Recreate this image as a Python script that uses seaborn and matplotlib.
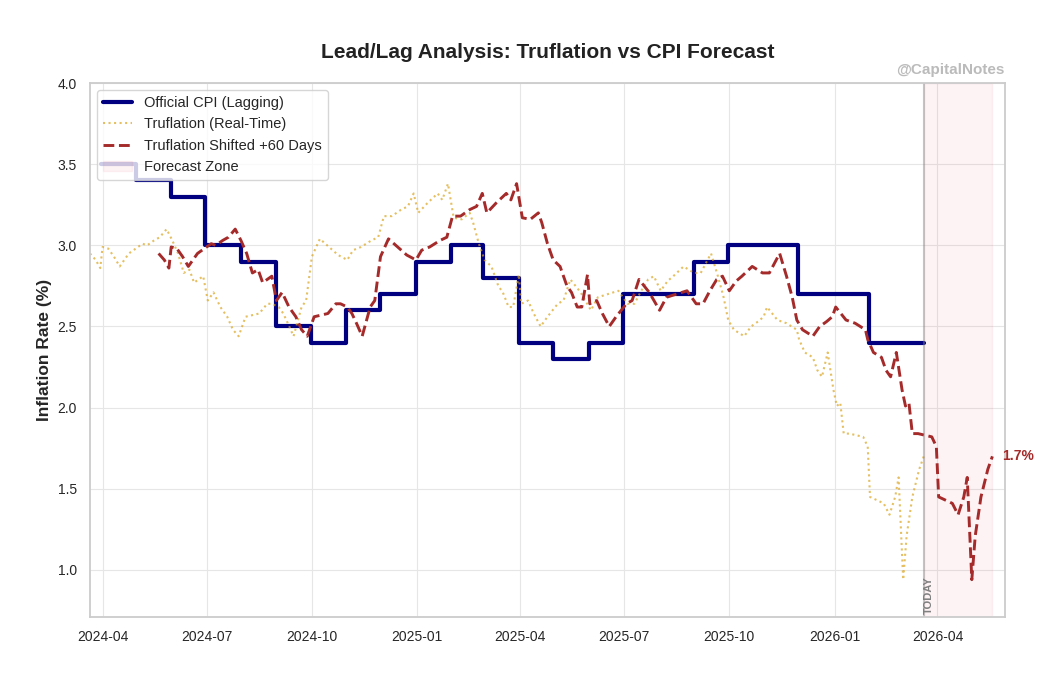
import matplotlib
matplotlib.use("Agg")
import matplotlib.pyplot as plt
import matplotlib.dates as mdates
import seaborn as sns
import pandas as pd

# Official CPI, month-end prints
cpi_dates = ["2024-03-31", "2024-04-30", "2024-05-31", "2024-06-30", "2024-07-31",
             "2024-08-31", "2024-09-30", "2024-10-31", "2024-11-30", "2024-12-31",
             "2025-01-31", "2025-02-28", "2025-03-31", "2025-04-30", "2025-05-31",
             "2025-06-30", "2025-07-31", "2025-08-31", "2025-09-30", "2025-10-31",
             "2025-11-30", "2025-12-31", "2026-01-31", "2026-02-28", "2026-03-20"]
cpi_vals = [3.5, 3.4, 3.3, 3.0, 2.9, 2.5, 2.4, 2.6, 2.7, 2.9,
            3.0, 2.8, 2.4, 2.3, 2.4, 2.7, 2.7, 2.9, 3.0, 3.0,
            2.7, 2.7, 2.4, 2.4, 2.4]

# Truflation real-time readings
tru_dates = ["2024-03-21", "2024-03-26", "2024-03-30", "2024-04-01", "2024-04-06", "2024-04-11",
             "2024-04-16", "2024-04-24", "2024-05-02", "2024-05-06", "2024-05-10", "2024-05-16",
             "2024-05-21", "2024-05-27", "2024-06-01", "2024-06-06", "2024-06-11", "2024-06-16",
             "2024-06-20", "2024-06-28", "2024-07-02", "2024-07-07", "2024-07-13", "2024-07-19",
             "2024-07-24", "2024-07-29", "2024-08-04", "2024-08-10", "2024-08-16", "2024-08-23",
             "2024-08-27", "2024-09-02", "2024-09-06", "2024-09-10", "2024-09-15", "2024-09-22",
             "2024-09-26", "2024-10-01", "2024-10-08", "2024-10-16", "2024-10-24", "2024-11-01",
             "2024-11-06", "2024-11-13", "2024-11-22", "2024-11-28", "2024-12-03", "2024-12-10",
             "2024-12-18", "2024-12-24", "2024-12-29", "2025-01-02", "2025-01-10", "2025-01-19",
             "2025-01-23", "2025-01-28", "2025-02-02", "2025-02-09", "2025-02-16", "2025-02-19",
             "2025-02-24", "2025-03-01", "2025-03-07", "2025-03-13", "2025-03-17", "2025-03-22",
             "2025-03-26", "2025-03-31", "2025-04-02", "2025-04-08", "2025-04-13", "2025-04-19",
             "2025-04-25", "2025-05-04", "2025-05-09", "2025-05-15", "2025-05-24", "2025-06-02",
             "2025-06-08", "2025-06-17", "2025-06-26", "2025-07-04", "2025-07-10", "2025-07-16",
             "2025-07-22", "2025-07-27", "2025-08-02", "2025-08-08", "2025-08-13", "2025-08-22",
             "2025-08-31", "2025-09-06", "2025-09-15", "2025-09-21", "2025-09-26", "2025-09-30",
             "2025-10-05", "2025-10-14", "2025-10-20", "2025-10-26", "2025-10-31", "2025-11-03",
             "2025-11-12", "2025-11-20", "2025-11-29", "2025-12-01", "2025-12-06", "2025-12-13",
             "2025-12-17", "2025-12-21", "2025-12-26", "2025-12-31", "2026-01-03", "2026-01-06",
             "2026-01-09", "2026-01-14", "2026-01-20", "2026-01-26", "2026-01-30", "2026-02-01",
             "2026-02-07", "2026-02-13", "2026-02-18", "2026-02-23", "2026-02-26", "2026-03-02",
             "2026-03-05", "2026-03-10", "2026-03-16", "2026-03-20"]
tru_vals = [2.95, 2.91, 2.86, 2.99, 2.98, 2.93, 2.87, 2.95, 2.99, 3.01, 3.00, 3.03,
            3.05, 3.10, 3.03, 2.95, 2.83, 2.85, 2.77, 2.81, 2.66, 2.71, 2.62, 2.56,
            2.48, 2.44, 2.56, 2.57, 2.58, 2.64, 2.64, 2.62, 2.58, 2.52, 2.44, 2.62,
            2.66, 2.93, 3.04, 2.99, 2.94, 2.91, 2.97, 2.99, 3.03, 3.05, 3.18, 3.18,
            3.22, 3.24, 3.32, 3.20, 3.26, 3.32, 3.28, 3.38, 3.17, 3.16, 3.20, 3.14,
            3.01, 2.91, 2.87, 2.75, 2.71, 2.62, 2.62, 2.82, 2.64, 2.66, 2.58, 2.50,
            2.56, 2.64, 2.66, 2.79, 2.71, 2.60, 2.68, 2.70, 2.72, 2.64, 2.64, 2.72,
            2.79, 2.81, 2.72, 2.78, 2.81, 2.87, 2.83, 2.83, 2.95, 2.81, 2.68, 2.54,
            2.48, 2.44, 2.50, 2.53, 2.56, 2.62, 2.54, 2.52, 2.48, 2.42, 2.34, 2.31,
            2.23, 2.19, 2.34, 2.11, 2.01, 2.03, 1.84, 1.84, 1.83, 1.82, 1.76, 1.45,
            1.43, 1.41, 1.34, 1.45, 1.57, 0.94, 1.21, 1.45, 1.62, 1.70]

lead_days = 60
today = pd.Timestamp("2026-03-20")

cpi = pd.DataFrame({"date": pd.to_datetime(cpi_dates), "value": cpi_vals})
tru = pd.DataFrame({"date": pd.to_datetime(tru_dates), "value": tru_vals})
shifted = tru.assign(date=tru["date"] + pd.Timedelta(days=lead_days))

sns.set_theme(style="whitegrid")
plt.rcParams["font.family"] = ["Liberation Sans", "DejaVu Sans"]

fig = plt.figure(figsize=(10.61, 6.79), dpi=100)
ax = fig.add_axes([0.0848, 0.0913, 0.8624, 0.7864])

sns.lineplot(data=cpi, x="date", y="value", ax=ax, color="navy", linewidth=3,
             drawstyle="steps-post", label="Official CPI (Lagging)")
sns.lineplot(data=tru, x="date", y="value", ax=ax, color="goldenrod", linewidth=1.5,
             linestyle=":", alpha=0.7, label="Truflation (Real-Time)")
sns.lineplot(data=shifted, x="date", y="value", ax=ax, color="#a52a2a", linewidth=2.1,
             linestyle="--", label=f"Truflation Shifted +{lead_days} Days")
ax.axvspan(today, today + pd.Timedelta(days=lead_days), color="crimson", alpha=0.05,
           label="Forecast Zone")
ax.axvline(today, color="gray", alpha=0.45, linewidth=1.5)

ax.set_xlim(pd.Timestamp("2024-03-21"), pd.Timestamp("2026-05-30"))
ax.set_ylim(0.71, 4.0)
ax.text(today, 0.73, "TODAY", rotation=90, ha="left", va="bottom",
        fontsize=8, fontweight="bold", color="gray")

last = shifted.iloc[-1]
ax.annotate(f"{last['value']:.1f}%", xy=(last["date"], last["value"]), xytext=(7, 0),
            textcoords="offset points", va="center", ha="left",
            fontsize=10, fontweight="bold", color="#a52a2a")

ax.xaxis.set_major_locator(mdates.MonthLocator(bymonth=[1, 4, 7, 10]))
ax.xaxis.set_major_formatter(mdates.DateFormatter("%Y-%m"))
ax.tick_params(labelsize=10)
ax.grid(True, color="#e6e6e6", linewidth=0.8)
for s in ax.spines.values():
    s.set_color("#cccccc")
    s.set_linewidth(1.3)

ax.set_xlabel("")
ax.set_ylabel("Inflation Rate (%)", fontsize=12.5, fontweight="bold")
ax.set_title("Lead/Lag Analysis: Truflation vs CPI Forecast", fontsize=15,
             fontweight="bold", pad=18, color="#222222")
ax.text(1.0, 1.012, "@CapitalNotes", transform=ax.transAxes, ha="right", va="bottom",
        fontsize=11, fontweight="bold", color="#bbbbbb")

ax.legend(loc="upper left", fontsize=10.5, frameon=True)

fig.savefig("out.png", dpi=100)
